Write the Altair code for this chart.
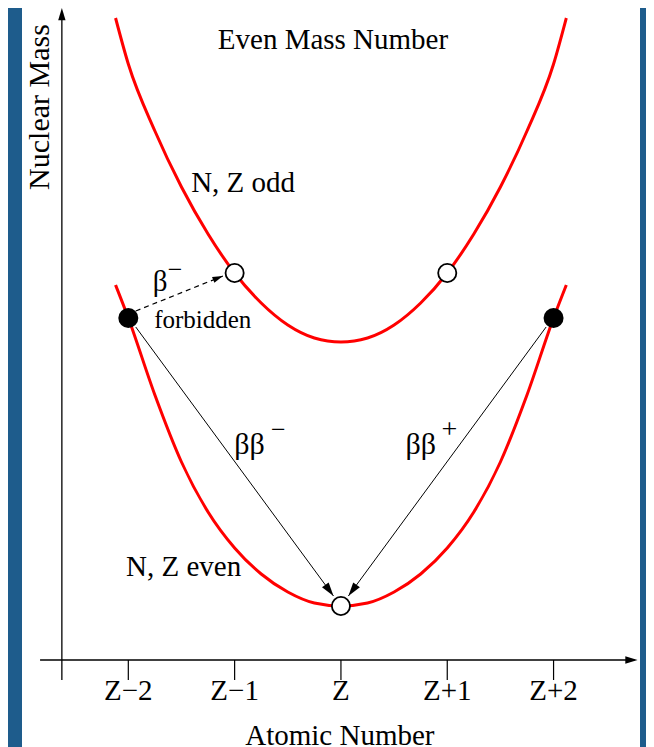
import math
import altair as alt
import pandas as pd

FONT = "Times New Roman, Liberation Serif, serif"

# ---- curves (atomic-number offset vs. nuclear mass, arbitrary units) ----
odd_z = [-2.12, -2.0, -1.75, -1.5, -1.25, -1.0, -0.75, -0.5, -0.25, 0.0, 0.25, 0.5, 0.75, 1.0, 1.25, 1.5, 1.75, 2.0, 2.12]
odd_m = [64.2, 59.6, 52.9, 47.3, 42.6, 38.7, 35.7, 33.5, 32.2, 31.8, 32.2, 33.5, 35.7, 38.7, 42.6, 47.3, 52.9, 59.6, 64.2]
even_z = [-2.12, -2.0, -1.75, -1.5, -1.25, -1.0, -0.75, -0.5, -0.25, 0.0, 0.25, 0.5, 0.75, 1.0, 1.25, 1.5, 1.75, 2.0, 2.12]
even_m = [37.5, 34.2, 26.5, 19.8, 14.8, 11.2, 8.6, 6.8, 5.7, 5.4, 5.7, 6.8, 8.6, 11.2, 14.8, 19.8, 26.5, 34.2, 37.5]

# ---- nuclei ----
open_z = [-1, 1, 0]
open_m = [38.7, 38.7, 5.4]
filled_z = [-2, 2]
filled_m = [34.2, 34.2]

# ---- axis ----
tick_pos = [-2, -1, 0, 1, 2]
tick_labels = ["Z\u22122", "Z\u22121", "Z", "Z+1", "Z+2"]

# ---- decay arrows ----
arrow_x1 = [-1.93, 1.93, -1.93]
arrow_y1 = [33.3, 33.3, 34.9]
arrow_x2 = [-0.07, 0.07, -1.11]
arrow_y2 = [6.4, 6.4, 38.4]
arrow_dashed = [False, False, True]
arrow_head = [190, 190, 110]

# scale geometry
X_DOM = [-3.0, 2.813]
Y_DOM = [-8.7, 65.2]
W, H = 618, 739
PX = W / (X_DOM[1] - X_DOM[0])
PY = H / (Y_DOM[1] - Y_DOM[0])

xs = alt.Scale(domain=X_DOM, nice=False, zero=False)
ys = alt.Scale(domain=Y_DOM, nice=False, zero=False)
X = lambda f: alt.X(f, type="quantitative", scale=xs, axis=None)
Y = lambda f: alt.Y(f, type="quantitative", scale=ys, axis=None)

curves = pd.DataFrame(
    [{"curve": "odd", "z": z, "m": m} for z, m in zip(odd_z, odd_m)]
    + [{"curve": "even", "z": z, "m": m} for z, m in zip(even_z, even_m)]
)
curve_layer = alt.Chart(curves).mark_line(color="#ff0000", strokeWidth=3, interpolate="monotone").encode(
    x=X("z"), y=Y("m"), detail="curve:N"
)

# axes lines
axis_df = pd.DataFrame({
    "x": [-2.83, -2.625], "x2": [2.76, -2.625],
    "y": [0.0, -2.0], "y2": [0.0, 64.4],
})
axis_layer = alt.Chart(axis_df).mark_rule(color="black", strokeWidth=1.3).encode(
    x=X("x"), x2="x2", y=Y("y"), y2="y2"
)
axis_heads = pd.DataFrame({"x": [2.79, -2.625], "y": [0.0, 65.2], "angle": [0, 270]})
axis_head_layer = alt.Chart(axis_heads).mark_point(
    shape="M0,0L-2,-0.6L-2,0.6Z", filled=True, color="black", opacity=1, size=150
).encode(x=X("x"), y=Y("y"), angle=alt.Angle("angle:Q", scale=None))

ticks = pd.DataFrame({"x": tick_pos, "y": [0.0] * 5, "y2": [-2.0] * 5, "label": tick_labels})
tick_layer = alt.Chart(ticks).mark_rule(color="black", strokeWidth=1.2).encode(
    x=X("x"), y=Y("y"), y2="y2"
)
tick_text = alt.Chart(ticks).mark_text(
    font=FONT, fontSize=29, baseline="middle", align="center", color="black"
).encode(x=X("x"), y=alt.Y("yl:Q", scale=ys, axis=None), text="label:N").transform_calculate(yl="-3.1")

# arrows
arr = pd.DataFrame({
    "x": arrow_x1, "y": arrow_y1, "x2": arrow_x2, "y2": arrow_y2,
    "dashed": arrow_dashed, "head": arrow_head,
})
arr["angle"] = [
    (math.degrees(math.atan2(-(b2 - b1) * PY, (a2 - a1) * PX)) + 360) % 360
    for a1, b1, a2, b2 in zip(arrow_x1, arrow_y1, arrow_x2, arrow_y2)
]
solid = alt.Chart(arr[~arr["dashed"]]).mark_rule(color="black", strokeWidth=1).encode(
    x=X("x"), x2="x2", y=Y("y"), y2="y2"
)
dashed = alt.Chart(arr[arr["dashed"]]).mark_rule(color="black", strokeWidth=1.2, strokeDash=[5, 4]).encode(
    x=X("x"), x2="x2", y=Y("y"), y2="y2"
)
heads = alt.Chart(arr).mark_point(
    shape="M0,0L-2,-0.6L-2,0.6Z", filled=True, color="black", opacity=1
).encode(
    x=X("x2"), y=Y("y2"), angle=alt.Angle("angle:Q", scale=None), size=alt.Size("head:Q", scale=None)
)

# nuclei
open_layer = alt.Chart(pd.DataFrame({"z": open_z, "m": open_m})).mark_point(
    shape="circle", size=330, filled=True, fill="white", stroke="black", strokeWidth=1.8, opacity=1
).encode(x=X("z"), y=Y("m"))
filled_layer = alt.Chart(pd.DataFrame({"z": filled_z, "m": filled_m})).mark_point(
    shape="circle", size=400, filled=True, color="black", opacity=1
).encode(x=X("z"), y=Y("m"))

# labels
label_text = ["Even Mass Number", "N, Z odd", "N, Z even", "\u03b2", "\u2212", "forbidden",
              "\u03b2\u03b2", "\u2212", "\u03b2\u03b2", "+", "Atomic Number", "Nuclear Mass"]
label_x = [-0.075, -0.92, -1.48, -1.70, -1.56, -1.30, -0.86, -0.59, 0.75, 1.02, -0.01, -2.83]
label_y = [62.0, 47.7, 9.3, 37.8, 39.0, 34.0, 21.5, 23.0, 21.5, 23.0, -7.6, 55.3]
label_size = [29, 29, 29, 29, 26, 25, 30, 26, 30, 28, 29, 30]
label_angle = [0, 0, 0, 0, 0, 0, 0, 0, 0, 0, 0, 270]
labels = pd.DataFrame({"t": label_text, "x": label_x, "y": label_y, "s": label_size, "a": label_angle})
label_layer = alt.Chart(labels).mark_text(
    font=FONT, baseline="middle", align="center", color="black"
).encode(
    x=X("x"), y=Y("y"), text="t:N",
    size=alt.Size("s:Q", scale=None), angle=alt.Angle("a:Q", scale=None)
)

chart = alt.layer(
    curve_layer, axis_layer, axis_head_layer, tick_layer, tick_text,
    solid, dashed, heads, open_layer, filled_layer, label_layer
).properties(
    width=W, height=H,
    autosize=alt.AutoSizeParams(type="none"),
    padding={"left": 14, "top": 0, "right": 6, "bottom": 0},
    background="#1e5c8c",
).configure_view(stroke=None, fill="white")

chart.save("out.html", embed_options={"renderer": "svg", "actions": False})
